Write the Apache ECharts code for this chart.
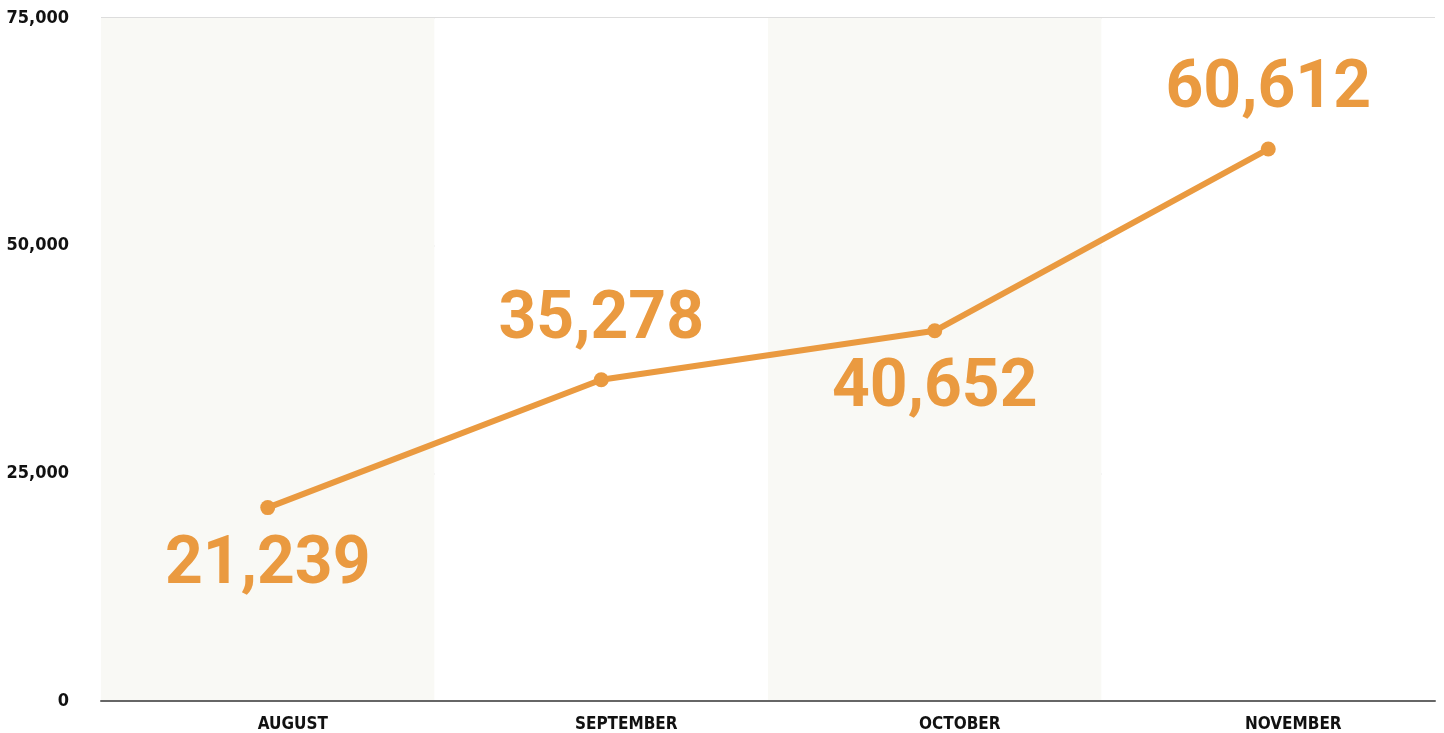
<!DOCTYPE html>
<html>
<head>
<meta charset="utf-8">
<script src="https://cdn.jsdelivr.net/npm/echarts@6/dist/echarts.min.js"></script>
<style>
  html, body { margin: 0; padding: 0; background: #fff; }
  #chart { width: 1444px; height: 733px; }
</style>
</head>
<body>
<div id="chart"></div>
<script>
const months = ['AUGUST', 'SEPTEMBER', 'OCTOBER', 'NOVEMBER'];
const visitors = [21239, 35278, 40652, 60612];
const labelSide = ['bottom', 'top', 'bottom', 'top'];
const yTicks = [0, 25000, 50000, 75000];

const orange = '#EA9A40';
const chart = echarts.init(document.getElementById('chart'));

const option = {
  animation: false,
  grid: { left: 101, right: 9, top: 18, bottom: 32 },
  xAxis: {
    type: 'category',
    data: months,
    boundaryGap: true,
    axisTick: { show: false },
    axisLine: { show: true, lineStyle: { color: '#666', width: 2 } },
    axisLabel: {
      color: '#111',
      fontFamily: 'DejaVu Sans Condensed',
      fontWeight: 'bold',
      fontSize: 17,
      margin: 15,
      padding: [0, 0, 0, 50]   // labels sit a little right of the point
    },
    splitArea: {
      show: true,
      areaStyle: { color: ['#F9F9F5', '#FFFFFF'] }
    }
  },
  yAxis: {
    type: 'value',
    min: yTicks[0],
    max: yTicks[yTicks.length - 1],
    interval: 25000,
    axisLine: { show: false },
    axisTick: { show: false },
    axisLabel: {
      color: '#111',
      fontFamily: 'DejaVu Sans Condensed',
      fontWeight: 'bold',
      fontSize: 18,
      margin: 32,
      formatter: v => v.toLocaleString('en-US')
    },
    splitLine: { lineStyle: { color: '#dddddd', width: 2 } }
  },
  series: [{
    type: 'line',
    data: visitors.map((v, i) => ({
      value: v,
      label: { position: labelSide[i] }
    })),
    symbol: 'circle',
    symbolSize: 15,
    lineStyle: { color: orange, width: 6 },
    itemStyle: { color: orange },
    label: {
      show: true,
      color: orange,
      fontFamily: 'Roboto',
      fontWeight: 'bold',
      fontSize: 66,
      distance: 18,
      formatter: p => p.value.toLocaleString('en-US')
    }
  }]
};

chart.setOption(option);
</script>
</body>
</html>
